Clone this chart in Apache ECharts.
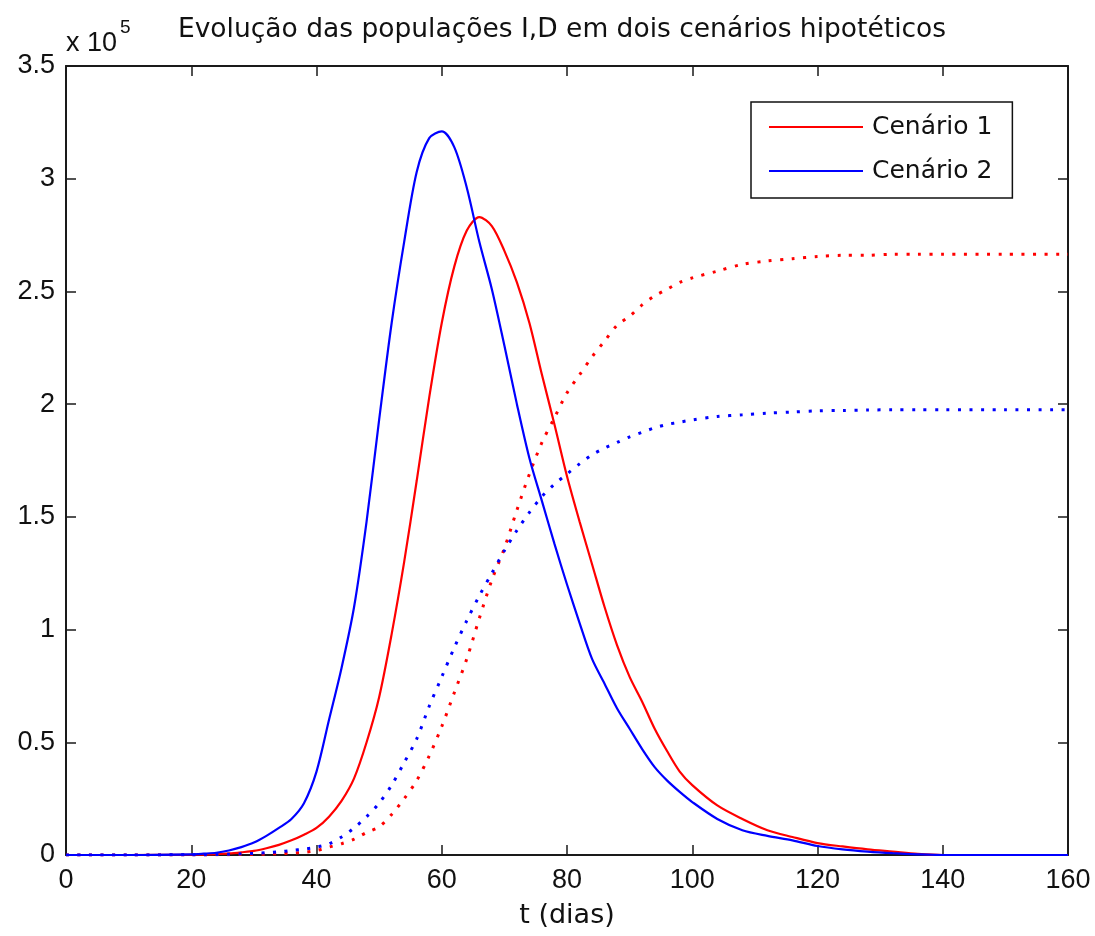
<!DOCTYPE html>
<html>
<head>
<meta charset="utf-8">
<script src="https://cdn.jsdelivr.net/npm/echarts@6/dist/echarts.min.js"></script>
<style>
html,body{margin:0;padding:0;background:#fff;}
#chart{width:1095px;height:936px;}
</style>
</head>
<body>
<div id="chart"></div>
<script>
// time in days
const days = [0,10,20,22,24,26,28,30,32,34,36,38,40,42,44,46,48,50,52,54,56,58,60,62,64,66,68,70,72,74,76,78,80,82,84,86,88,90,92,94,96,98,100,104,108,112,116,120,124,128,132,136,140,150,160];
// values in units of 10^5
const I1 = [0,0,0.001,0.002,0.004,0.007,0.012,0.018,0.03,0.045,0.065,0.09,0.12,0.17,0.24,0.34,0.5,0.7,0.98,1.3,1.66,2.03,2.36,2.61,2.77,2.83,2.79,2.68,2.54,2.36,2.13,1.91,1.68,1.48,1.29,1.1,0.93,0.79,0.68,0.56,0.46,0.37,0.31,0.22,0.16,0.11,0.08,0.053,0.038,0.025,0.015,0.005,0,0,0];
const D1 = [0,0,0,0,0.001,0.001,0.002,0.003,0.004,0.006,0.008,0.012,0.02,0.035,0.05,0.07,0.1,0.125,0.18,0.25,0.33,0.44,0.57,0.72,0.87,1.05,1.22,1.36,1.53,1.69,1.83,1.94,2.05,2.13,2.21,2.28,2.35,2.39,2.44,2.48,2.51,2.54,2.56,2.59,2.62,2.635,2.645,2.655,2.66,2.66,2.665,2.665,2.665,2.665,2.665];
const I2 = [0,0,0.003,0.006,0.01,0.02,0.035,0.055,0.085,0.12,0.16,0.23,0.37,0.6,0.83,1.1,1.48,1.93,2.36,2.72,3.03,3.18,3.21,3.14,2.96,2.72,2.51,2.26,2.0,1.76,1.57,1.38,1.2,1.03,0.87,0.76,0.65,0.56,0.47,0.39,0.33,0.28,0.235,0.16,0.11,0.085,0.065,0.04,0.025,0.015,0.008,0.003,0,0,0];
const D2 = [0,0,0.001,0.001,0.002,0.003,0.005,0.007,0.01,0.014,0.02,0.026,0.035,0.05,0.08,0.12,0.17,0.23,0.31,0.41,0.515,0.66,0.79,0.92,1.04,1.15,1.25,1.35,1.44,1.52,1.59,1.645,1.69,1.735,1.775,1.805,1.83,1.855,1.875,1.895,1.91,1.92,1.93,1.945,1.953,1.96,1.965,1.97,1.972,1.974,1.975,1.975,1.975,1.975,1.975];
const seriesNames = ['Cenário 1','Cenário 2'];
const titleText = 'Evolução das populações I,D em dois cenários hipotéticos';
const xName = 't (dias)';

const pairs = arr => days.map((t,i)=>[t,arr[i]]);
const tickFont = 'Liberation Sans';
const axisCol = '#1a1a1a';

const xBase = {type:'value', min:0, max:160, interval:20};
const yBase = {type:'value', min:0, max:3.5, interval:0.5};
const tickStyle = {show:true, inside:true, length:10, lineStyle:{color:axisCol, width:1.5}};

const chart = echarts.init(document.getElementById('chart'), null, {renderer:'canvas'});
chart.setOption({
  animation:false,
  backgroundColor:'#fff',
  grid:{left:66, top:66, right:27, bottom:81, containLabel:false},
  xAxis:[
    Object.assign({}, xBase, {position:'bottom',
      axisLine:{show:true, onZero:false, lineStyle:{color:axisCol, width:2}},
      axisTick:tickStyle, splitLine:{show:false},
      axisLabel:{color:'#111', fontFamily:tickFont, fontSize:27, margin:12},
      name:xName, nameLocation:'middle', nameGap:47,
      nameTextStyle:{color:'#111', fontFamily:'DejaVu Sans', fontSize:27}}),
    Object.assign({}, xBase, {position:'top',
      axisLine:{show:true, onZero:false, lineStyle:{color:axisCol, width:2}},
      axisTick:tickStyle, splitLine:{show:false}, axisLabel:{show:false}})
  ],
  yAxis:[
    Object.assign({}, yBase, {position:'left',
      axisLine:{show:true, onZero:false, lineStyle:{color:axisCol, width:2}},
      axisTick:tickStyle, splitLine:{show:false},
      axisLabel:{color:'#111', fontFamily:tickFont, fontSize:27, margin:11}}),
    Object.assign({}, yBase, {position:'right',
      axisLine:{show:true, onZero:false, lineStyle:{color:axisCol, width:2}},
      axisTick:tickStyle, splitLine:{show:false}, axisLabel:{show:false}})
  ],
  legend:{
    data:seriesNames, orient:'vertical', left:751, top:102,
    padding:[10,20,12,18], itemWidth:94, itemHeight:2, itemGap:14,
    icon:'rect', borderColor:'#111', borderWidth:1.5, backgroundColor:'#fff',
    textStyle:{color:'#111', fontFamily:'DejaVu Sans', fontSize:25, lineHeight:30, padding:[0,0,0,4]}
  },
  graphic:[
    {type:'text', x:562, y:30, style:{text:titleText, fill:'#111', font:'26.5px "DejaVu Sans"', textAlign:'center', textVerticalAlign:'middle'}},
    {type:'text', x:66, y:44, style:{text:'x 10', fill:'#111', font:'27px "Liberation Sans"', textAlign:'left', textVerticalAlign:'middle'}},
    {type:'text', x:120, y:28, style:{text:'5', fill:'#111', font:'19px "Liberation Sans"', textAlign:'left', textVerticalAlign:'middle'}}
  ],
  series:[
    {name:seriesNames[0], type:'line', data:pairs(I1), showSymbol:false, smooth:0.3, color:'#ff0000',
      lineStyle:{color:'#ff0000', width:2.2}},
    {name:'D – ' + seriesNames[0], type:'line', data:pairs(D1), showSymbol:false, smooth:0.3, color:'#ff0000',
      lineStyle:{color:'#ff0000', width:3, type:[3,8.5], cap:'butt'}},
    {name:seriesNames[1], type:'line', data:pairs(I2), showSymbol:false, smooth:0.3, color:'#0000ff',
      lineStyle:{color:'#0000ff', width:2.2}},
    {name:'D – ' + seriesNames[1], type:'line', data:pairs(D2), showSymbol:false, smooth:0.3, color:'#0000ff',
      lineStyle:{color:'#0000ff', width:3, type:[3,8.5], cap:'butt'}}
  ]
});
</script>
</body>
</html>
